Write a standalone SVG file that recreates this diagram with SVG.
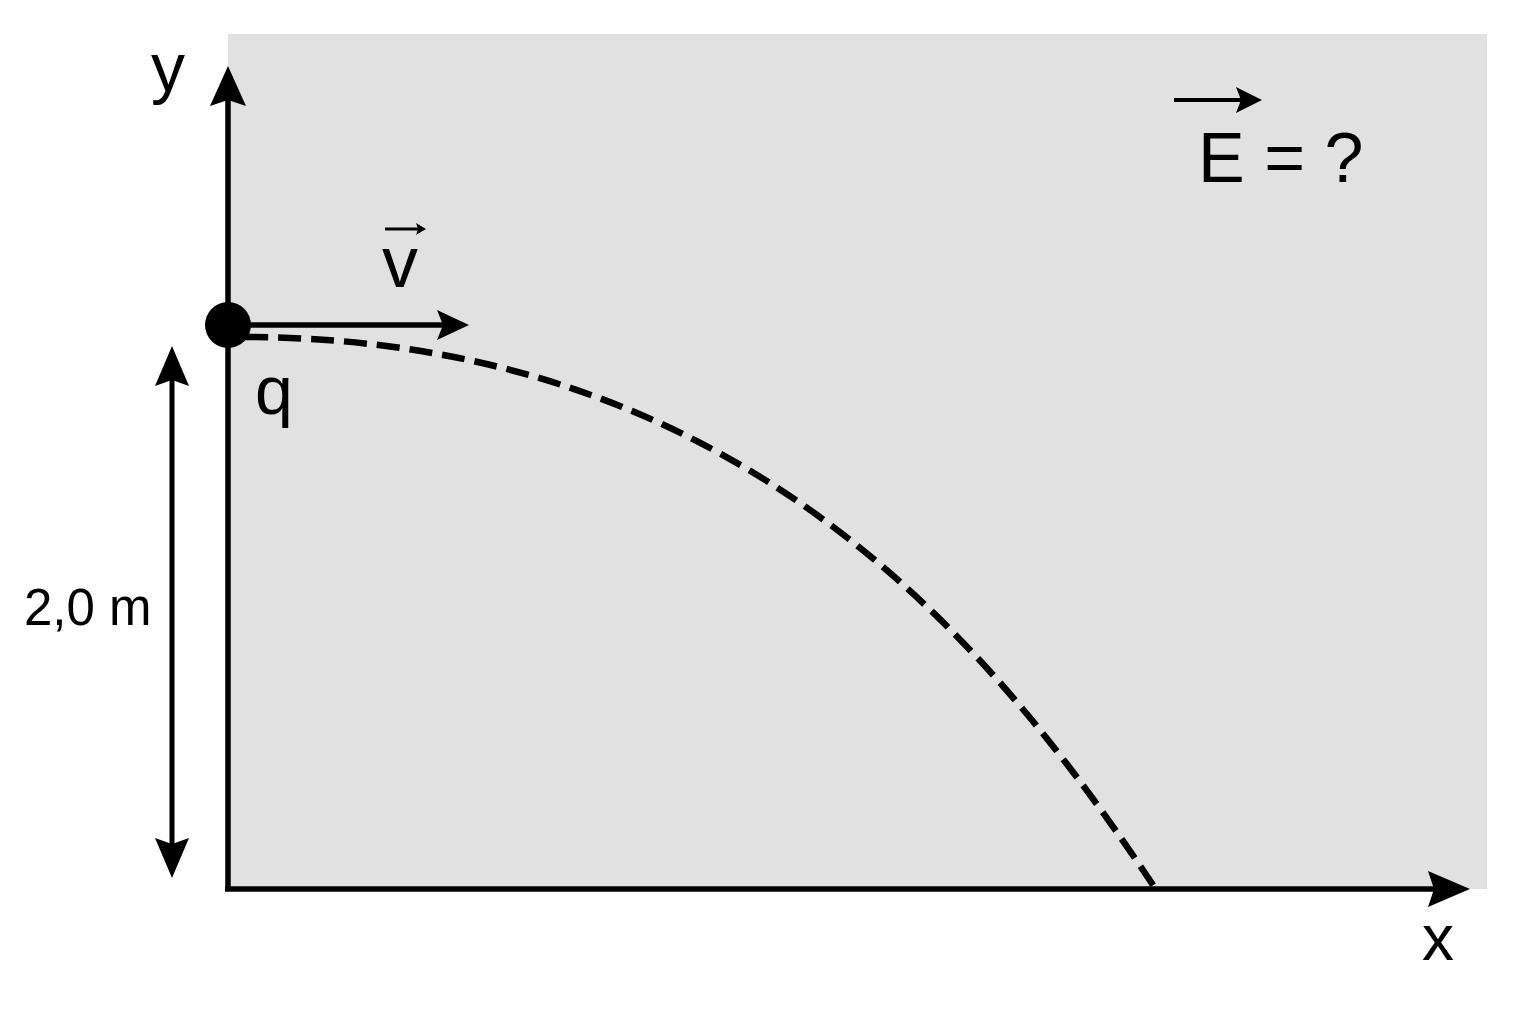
<svg xmlns="http://www.w3.org/2000/svg" width="1536" height="1024" viewBox="0 0 1536 1024">
  <style>
    .ln { stroke: #000; stroke-width: 5.5; fill: none; }
    .hd { fill: #000; stroke: none; }
    .lbl { font-family: "Liberation Sans", Arial, sans-serif; fill: #000; }
  </style>
  <rect x="0" y="0" width="1536" height="1024" fill="#ffffff"/>
  <rect id="field" x="228" y="34" width="1259" height="855" fill="#e1e1e1"/>

  <g id="connectors">
    <g id="y-axis">
      <line class="ln" x1="228" y1="100" x2="228" y2="891"/>
      <polygon class="hd" points="228,66 246,106 228,100 210,106"/>
    </g>
    <g id="x-axis">
      <line class="ln" x1="225" y1="889" x2="1436" y2="889"/>
      <polygon class="hd" points="1470,889 1428,907 1434,889 1428,871"/>
    </g>
    <path id="trajectory" d="M245,337 C740,338 990,640 1155,888" fill="none" stroke="#000" stroke-width="6.5" stroke-dasharray="23 10"/>
    <g id="velocity">
      <line class="ln" x1="228" y1="325" x2="445" y2="325"/>
      <polygon class="hd" points="469,325 437,340 443,325 437,310"/>
    </g>
    <g id="height-dim">
      <line class="ln" x1="172" y1="380" x2="172" y2="845" style="stroke-width:5"/>
      <polygon class="hd" points="172,346 189,386 172,380 155,386"/>
      <polygon class="hd" points="172,878 189,838 172,844 155,838"/>
    </g>
  </g>

  <g id="charge">
    <circle cx="228" cy="325" r="23" fill="#000"/>
    <text class="lbl" x="255" y="414" font-size="68">q</text>
  </g>

  <g id="v-label">
    <line x1="385" y1="229" x2="418" y2="229" stroke="#000" stroke-width="3"/>
    <polygon class="hd" points="426,229 416,235 418,229 416,223"/>
    <text class="lbl" x="382" y="287" font-size="72">v</text>
  </g>

  <g id="E-label">
    <line x1="1174" y1="100" x2="1245" y2="100" stroke="#000" stroke-width="4"/>
    <polygon class="hd" points="1262,100 1236,113 1241,100 1236,87"/>
    <text class="lbl" x="1198" y="182" font-size="70">E = ?</text>
  </g>

  <g id="axis-labels">
    <text class="lbl" x="151" y="91" font-size="68">y</text>
    <text class="lbl" x="1422" y="960" font-size="64">x</text>
    <text class="lbl" x="24" y="625" font-size="51">2,0 m</text>
  </g>
</svg>
